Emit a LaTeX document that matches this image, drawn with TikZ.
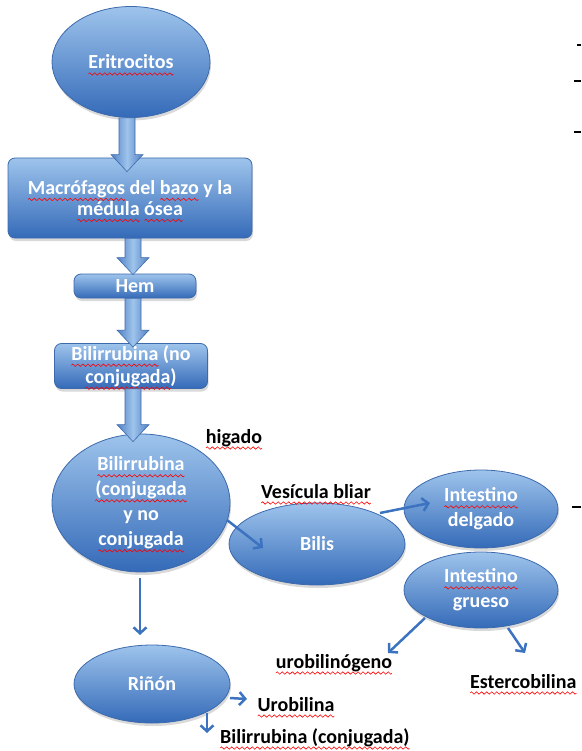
\documentclass[tikz,border=0pt]{standalone}
\usepackage{fontspec}
\setmainfont{Carlito}
\usetikzlibrary{shapes.geometric,arrows.meta,calc,shadows}

\definecolor{topblue}{RGB}{158,196,236}
\definecolor{lowblue}{RGB}{52,106,184}
\definecolor{edgeblue}{RGB}{60,106,172}
\definecolor{linkblue}{RGB}{60,115,192}

% red wavy spell-check underline
\newcommand{\wavecell}{\tikz[baseline=0pt, x=1pt, y=1pt, sharp corners]{%
  \draw[red, line width=0.6pt, sharp corners] (0,-5) sin (1.25,-3.8) cos (2.5,-5) sin (3.75,-6.2) cos (5,-5);
  \pgfresetboundingbox\useasboundingbox (0,0) rectangle (5,0);}}
\newsavebox{\wordbox}
\newcommand{\sq}[1]{\leavevmode\sbox{\wordbox}{#1}%
  \rlap{\hbox to \wd\wordbox{\xleaders\hbox{\wavecell}\hfil}}\usebox{\wordbox}}

% block arrow from #1 straight down to the tip at the height of #2
\newcommand{\fatarrow}[2]{%
  \path[fat] let \p1=(#1), \p2=(#2) in
    (\x1-8pt,\y1) -- (\x1+8pt,\y1) -- (\x1+8pt,\y2+17pt) -- (\x1+16pt,\y2+17pt)
    -- (\x1,\y2) -- (\x1-16pt,\y2+17pt) -- (\x1-8pt,\y2+17pt) -- cycle;}

\begin{document}
\begin{tikzpicture}[x=1pt, y=-1pt,
    organ/.style={ellipse, draw=edgeblue, line width=0.8pt, top color=topblue, bottom color=lowblue,
      drop shadow={shadow xshift=1pt, shadow yshift=-3pt, opacity=0.3}, text=white,
      font=\fontsize{20}{25}\selectfont\bfseries, align=center, inner sep=0pt},
    stage/.style={organ, rectangle, rounded corners=7pt},
    note/.style={font=\fontsize{20}{25}\selectfont\bfseries, inner sep=0pt},
    fat/.style={draw=edgeblue, line width=0.6pt, left color=lowblue!85, right color=lowblue!85, middle color=topblue},
    link/.style={draw=linkblue, line width=2.5pt, -{Straight Barb[length=6pt, width=13pt]}}
]
\useasboundingbox (0,0) rectangle (581,751);

\node[organ, minimum width=158pt, minimum height=111pt] (erit) at (131,62) {\sq{Eritrocitos}};
\node[stage, minimum width=244pt, minimum height=80pt, font=\fontsize{20}{21}\selectfont\bfseries] (macro) at (130,198) {\sq{Macrófagos} del \sq{bazo} y la\\\sq{médula} \sq{ósea}};
\node[stage, minimum width=122pt, minimum height=24pt] (hem) at (135,286) {Hem};
\node[stage, minimum width=153pt, minimum height=45pt, font=\fontsize{20}{23}\selectfont\bfseries] (bnc) at (131,366) {\sq{Bilirrubina} (no\\\sq{conjugada})};
\node[organ, minimum width=178pt, minimum height=138pt] (liver) at (141,503) {\sq{Bilirrubina}\\\sq{(conjugada}\\y no\\\sq{conjugada}};
\node[organ, minimum width=176pt, minimum height=82pt] (bilis) at (317,544) {Bilis};
\node[organ, minimum width=154pt, minimum height=78pt] (idel) at (481,509) {\sq{Intestino}\\delgado};
\node[organ, minimum width=154pt, minimum height=76pt] (igr) at (481,590) {\sq{Intestino}\\grueso};
\node[organ, minimum width=156pt, minimum height=78pt] (rinon) at (152,684) {Riñón};

\node[note, anchor=base] (higado) at (234,443) {\sq{higado}};
\node[note, anchor=base] (vesic) at (316,498) {\sq{Vesícula bliar}};
\node[note, anchor=base] (urog) at (334,668) {\sq{urobilinógeno}};
\node[note, anchor=base] (urob) at (296,711) {\sq{Urobilina}};
\node[note, anchor=base west] (bconj) at (220,743) {\sq{Bilirrubina (conjugada)}};
\node[note, anchor=base west] (esterc) at (470,688) {\sq{Estercobilina}};

\fatarrow{$(erit.south)+(-4,0)$}{$(macro.north)+(-3,14)$}
\fatarrow{$(macro.south)+(3,0)$}{$(hem.north)+(0,1)$}
\fatarrow{$(hem.south)+(-2,0)$}{$(bnc.north)+(0,4)$}
\fatarrow{$(bnc.south)+(2,0)$}{$(liver.north)+(0,8)$}

\draw[link] ($(liver.center)+(86,17)$) -- ($(bilis.center)+(-54,4)$);
\draw[link] ($(bilis.center)+(63,-31)$) -- ($(idel.center)+(-51,-6)$);
\draw[link] ($(igr.center)+(-56,28)$) -- ($(urog.base)+(54,-15)$);
\draw[link] ($(igr.center)+(27,38)$) -- ($(esterc.base west)+(55,-35)$);
\draw[link] ($(liver.center)+(-1,75)$) -- ($(rinon.center)+(-12,-49)$);
\draw[link] ($(rinon.center)+(78,14)$) -- ($(urob.base)+(-49,-12)$);
\draw[link] ($(rinon.center)+(55,29)$) -- ($(bconj.base west)+(-13,-10)$);

% stray marks at the right edge
\draw[line width=1.5pt] (577,45) -- (581,45);
\draw[line width=1.5pt] (574,81) -- (581,81);
\draw[line width=1.5pt] (574,132) -- (581,132);
\draw[line width=1.5pt] (572,507) -- (581,507);
\end{tikzpicture}
\end{document}
